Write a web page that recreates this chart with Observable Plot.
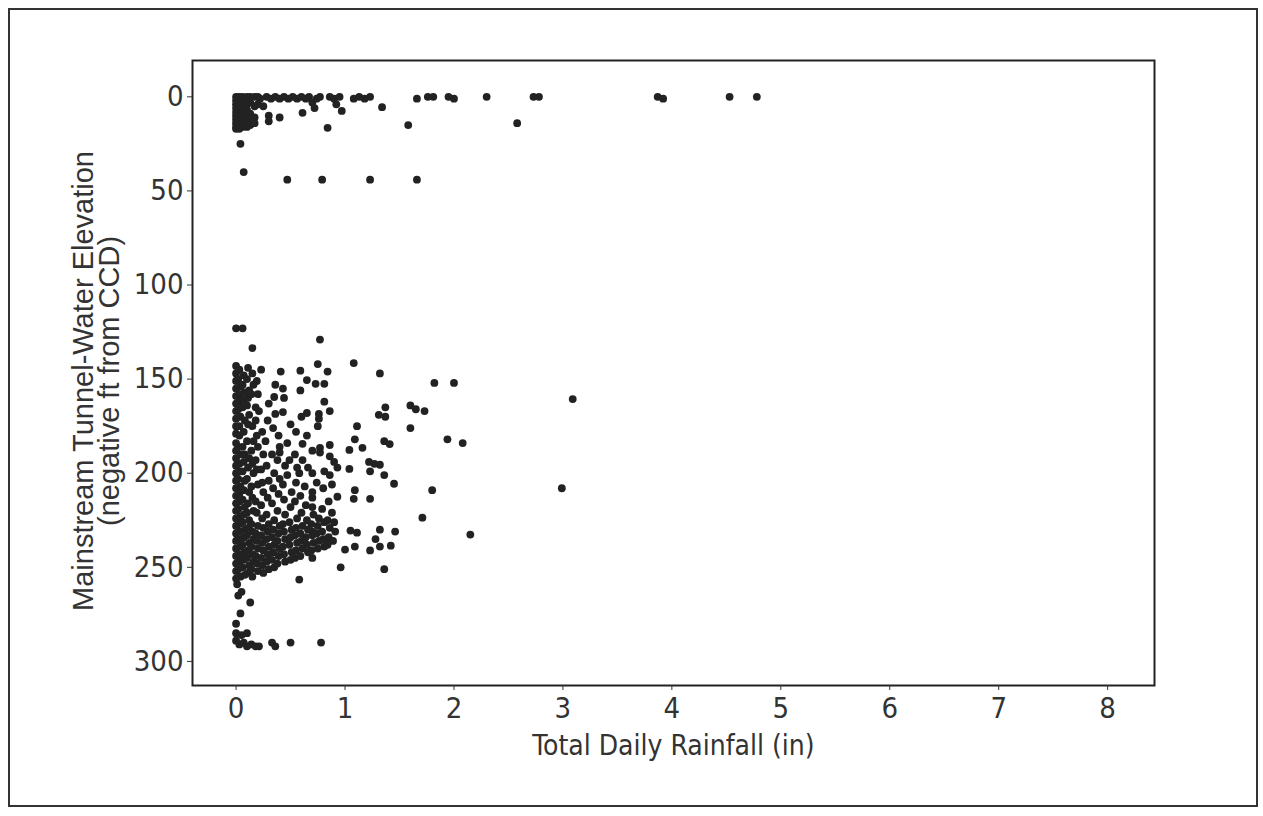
<!DOCTYPE html>
<html>
<head>
<meta charset="utf-8">
<script src="https://cdn.jsdelivr.net/npm/d3@7"></script>
<script src="https://cdn.jsdelivr.net/npm/@observablehq/plot@0.6"></script>
<style>
  html, body { margin: 0; padding: 0; background: #fff; }
  #wrap { position: relative; width: 1263px; height: 816px; }
  #outer { position: absolute; left: 8px; top: 8px; width: 1250px; height: 799px; border: 2px solid #333; box-sizing: border-box; pointer-events: none; }
</style>
</head>
<body>
<div id="wrap"><div id="outer"></div></div>
<script>
// Tick values
const xTicks = [0, 1, 2, 3, 4, 5, 6, 7, 8];
const yTicks = [0, 50, 100, 150, 200, 250, 300];
const xTitle = "Total Daily Rainfall (in)";
const yTitle = "Mainstream Tunnel-Water Elevation\n(negative ft from CCD)";

// [rainfall (in), elevation (negative ft from CCD)] — near-surface readings
const upperCluster = [
  [0,0],[0,2],[0,4],[0,6],[0,8],[0,10],[0,12],[0,14],[0,16],[0,17],
  [0.03,0],[0.03,3],[0.03,5],[0.03,7],[0.03,9],[0.03,11],[0.03,13],[0.03,15],[0.03,17],
  [0.06,0],[0.06,2],[0.06,6],[0.06,8],[0.06,12],[0.06,14],[0.06,16],
  [0.1,0],[0.1,4],[0.1,7],[0.1,10],[0.1,13],[0.1,16],
  [0.13,0],[0.13,3],[0.13,9],[0.13,12],[0.13,15],
  [0.17,0],[0.17,5],[0.17,11],[0.17,14],
  [0.2,0],[0.2,4],[0.22,1],[0.25,5],[0.28,0],[0.3,10],[0.3,13],[0.32,1],[0.36,0],
  [0.4,1],[0.4,11],[0.44,0],[0.48,1],[0.52,0],[0.56,1],[0.6,0],[0.61,8.5],[0.64,1],
  [0.67,0],[0.7,3],[0.72,6],[0.74,1],[0.77,0],[0.84,16.5],[0.86,0],[0.9,1],[0.92,4],
  [0.95,0],[0.97,7.5],[1.08,1],[1.13,0],[1.18,1],[1.23,0],[1.34,5.5],[1.58,15],
  [1.66,1],[1.76,0],[1.81,0],[1.95,0],[2.0,1],[2.3,0],[2.58,14],[2.73,0],[2.78,0],
  [3.87,0],[3.92,1],[4.53,0],[4.78,0],
  [0.04,25],[0.07,40],[0.47,44],[0.79,44],[1.23,44],[1.66,44]
];

// deeper readings — scattered points
const lowerScatter = [
  [0,123],[0.06,123],[0.77,129],[0.15,133.5],[1.08,141.5],[1.32,147],[1.82,152],[2.0,152],
  [0.23,145],[0.41,146],[0.59,145.5],[0.75,142],[0.84,146],[0.65,150.5],[0.73,152.5],[0.81,152.5],
  [0.36,153],[0.43,155],[0.59,156],[0.35,159.5],[0.3,163],[0.81,162],[0.18,165],[0.21,167],
  [0.36,168.5],[0.43,167.5],[0.65,168],[0.76,168.5],[0.76,171],[0.86,167],[1.37,165],[1.31,169],
  [1.37,170],[1.6,164],[1.65,166],[1.73,167],[3.09,160.6],
  [1.11,175],[1.6,176],[1.94,182],[2.08,184],[1.36,183],[1.41,184.5],[1.09,182],[1.04,187.6],
  [1.16,186.5],[0.86,185],[0.77,186.5],[0.77,189],[0.61,184.4],[0.47,184],[0.4,186],[0.4,189],[0.27,183],
  [1.22,194],[1.27,195],[1.32,195.5],[1.23,199],[1.36,201],[1.45,205.6],[1.04,197.7],[0.93,197],
  [0.86,191],[0.9,194],[0.81,199],[0.86,201],[0.7,200],[0.58,200],[0.47,201],[1.8,209],[1.09,209],
  [1.08,213.6],[1.23,213.6],[0.93,212.5],[0.88,206],[0.63,207],[0.7,210],[0.7,213],[0.7,218],
  [0.79,219],[0.88,221],[1.71,223.6],[2.15,232.6],[2.99,208],
  [1.32,230],[1.46,231],[1.05,230.5],[1.11,231.6],[1.28,235],[1.32,239],[1.42,238.5],[1.23,241],
  [1.09,239],[1.0,240.6],[0.96,250],[1.36,251],[0.58,256.5],[0.7,231],
  [0.13,268.7],[0.04,274.5],[0,280],[0,285],[0.05,286],[0.1,285],[0,289],[0.03,291],[0.07,290],
  [0.1,292],[0.14,291],[0.18,292],[0.21,292],[0.33,290],[0.36,292],[0.5,290],[0.78,290],
  [0.01,259],[0.05,263],[0.02,265]
];

// deeper readings — dense core
const lowerCore = [
  [0,143],[0,147],[0,151],[0,155],[0,159],[0,163],[0,167],[0,171],[0,175],[0,179],[0,184],[0,188],
  [0,192],[0,196],[0,200],[0,204],[0,208],[0,212],[0,216],[0,220],[0,224],[0,228],[0,232],[0,236],
  [0,240],[0,244],[0,248],[0,252],[0,256],
  [0.03,145],[0.02,150],[0.04,154],[0.03,158],[0.03,162],[0.02,166],[0.04,170],[0.03,175],[0.03,180],
  [0.02,186],[0.04,190],[0.03,195],[0.03,199],[0.02,203],[0.04,207],[0.03,211],[0.03,215],[0.02,219],
  [0.04,223],[0.03,227],[0.03,231],[0.02,235],[0.04,239],[0.03,243],[0.03,247],[0.02,251],[0.04,255],
  [0.07,148],[0.06,153],[0.08,157],[0.07,161],[0.06,165],[0.08,172],[0.07,178],[0.06,186],[0.08,190],
  [0.07,194],[0.06,199],[0.08,204],[0.07,209],[0.06,214],[0.08,218],[0.07,222],[0.06,226],[0.08,230],
  [0.07,234],[0.06,238],[0.08,242],[0.07,246],[0.06,250],[0.08,254],
  [0.11,144],[0.1,150],[0.12,156],[0.11,160],[0.1,164],[0.12,169],[0.11,174],[0.1,183],[0.12,192],
  [0.11,197],[0.1,203],[0.12,210],[0.11,216],[0.1,221],[0.12,225],[0.11,229],[0.1,233],[0.12,237],
  [0.11,241],[0.1,245],[0.12,249],[0.11,253],
  [0.15,147],[0.16,153],[0.14,158],[0.15,175],[0.16,183],[0.14,188],[0.15,195],[0.16,200],[0.14,207],
  [0.15,213],[0.16,220],[0.14,227],[0.15,231],[0.16,235],[0.14,239],[0.15,243],[0.16,247],[0.14,251],[0.15,255],
  [0.19,151],[0.2,158],[0.18,172],[0.19,180],[0.2,186],[0.18,193],[0.19,198],[0.2,206],[0.18,215],
  [0.19,221],[0.2,228],[0.18,232],[0.19,236],[0.2,240],[0.18,244],[0.19,248],[0.2,252],
  [0.24,178],[0.25,190],[0.23,198],[0.24,205],[0.25,210],[0.23,217],[0.24,224],[0.25,229],[0.23,233],
  [0.24,237],[0.25,241],[0.23,245],[0.24,249],[0.25,253],
  [0.29,172],[0.28,196],[0.3,204],[0.29,213],[0.28,222],[0.3,227],[0.29,231],[0.28,235],[0.3,239],
  [0.29,243],[0.28,247],[0.3,251],
  [0.34,176],[0.33,190],[0.35,200],[0.34,208],[0.33,216],[0.35,225],[0.34,230],[0.33,234],[0.35,238],
  [0.34,242],[0.33,246],[0.35,250],
  [0.39,180],[0.38,193],[0.4,203],[0.39,211],[0.38,220],[0.4,228],[0.39,232],[0.38,236],[0.4,240],
  [0.39,244],[0.38,248],
  [0.44,160],[0.45,196],[0.43,206],[0.44,214],[0.45,222],[0.43,227],[0.44,231],[0.45,235],[0.43,239],
  [0.44,243],[0.45,247],
  [0.5,174],[0.49,193],[0.51,210],[0.5,218],[0.49,226],[0.51,230],[0.5,234],[0.49,238],[0.51,242],[0.5,246],
  [0.55,178],[0.54,190],[0.56,197],[0.55,205],[0.54,215],[0.56,224],[0.55,229],[0.54,233],[0.56,237],
  [0.55,241],[0.54,245],
  [0.6,170],[0.61,193],[0.59,212],[0.6,221],[0.61,228],[0.59,232],[0.6,236],[0.61,240],[0.59,244],
  [0.65,180],[0.66,197],[0.64,217],[0.65,225],[0.66,230],[0.64,234],[0.65,238],[0.66,242],
  [0.7,188],[0.71,222],[0.69,227],[0.7,233],[0.71,237],[0.69,241],[0.7,245],
  [0.75,175],[0.74,205],[0.76,224],[0.75,228],[0.74,232],[0.76,236],[0.75,240],
  [0.8,208],[0.81,226],[0.79,231],[0.8,235],[0.81,239],
  [0.85,215],[0.84,225],[0.86,229],[0.85,234],[0.84,238],
  [0.9,226],[0.91,231],[0.89,236]
];

const points = [...upperCluster, ...lowerScatter, ...lowerCore].map(([rain, elev]) => ({rain, elev}));

const narrow = "'Liberation Sans Narrow', 'Arial Narrow', 'DejaVu Sans Condensed', 'Liberation Sans', sans-serif";

const chart = Plot.plot({
  width: 1263,
  height: 816,
  marginLeft: 192,
  marginRight: 109,
  marginTop: 60,
  marginBottom: 131,
  style: {fontFamily: narrow, fontSize: "29px", color: "#333", background: "transparent"},
  x: {domain: [-0.4, 8.43]},
  y: {domain: [-19.3, 312.8], reverse: true},
  marks: [
    Plot.frame({stroke: "#222", strokeWidth: 2}),
    Plot.axisX({ticks: xTicks, tickSize: 5, tickPadding: 7, label: null, tickFormat: d3.format("d")}),
    Plot.axisY({ticks: yTicks, tickSize: 5, tickPadding: 4, label: null, tickFormat: d3.format("d")}),
    Plot.dot(points, {x: "rain", y: "elev", r: 3.9, fill: "#222", stroke: "none"}),
    Plot.text([xTitle], {frameAnchor: "bottom", dy: 61, text: d => d, fontSize: 28, lineAnchor: "middle", fill: "#333"}),
    Plot.text([yTitle], {frameAnchor: "left", dx: -95, dy: 8, rotate: -90, text: d => d, fontSize: 29, lineHeight: 0.9, lineAnchor: "middle", textAnchor: "middle", fill: "#333", fontFamily: "'Liberation Sans', Arial, sans-serif"})
  ]
});
document.getElementById("wrap").prepend(chart);
</script>
</body>
</html>
